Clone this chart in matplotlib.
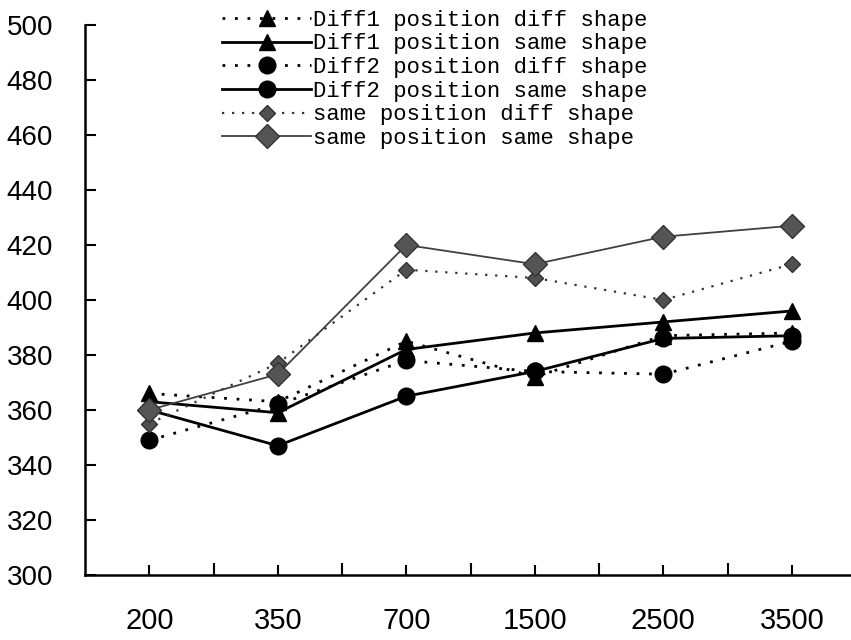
import matplotlib.pyplot as plt
import numpy as np

# data
sizes = ["200", "350", "700", "1500", "2500", "3500"]
diff1_diff = [366, 363, 385, 372, 387, 388]
diff1_same = [363, 359, 382, 388, 392, 396]
diff2_diff = [349, 362, 378, 374, 373, 385]
diff2_same = [360, 347, 365, 374, 386, 387]
same_diff = [355, 377, 411, 408, 400, 413]
same_same = [360, 373, 420, 413, 423, 427]

x = np.arange(len(sizes))
dots = (0, (1, 3.5))

fig = plt.figure(figsize=(8.51, 6.40), dpi=100)
ax = fig.add_axes([0.0999, 0.1016, 0.906, 0.8594])

ax.plot(x, diff1_diff, color='black', ls=dots, lw=2, marker='^', ms=11,
        label='Diff1 position diff shape')
ax.plot(x, diff1_same, color='black', ls='-', lw=2, marker='^', ms=11,
        label='Diff1 position same shape')
ax.plot(x, diff2_diff, color='black', ls=dots, lw=2, marker='o', ms=12,
        label='Diff2 position diff shape')
ax.plot(x, diff2_same, color='black', ls='-', lw=2, marker='o', ms=12,
        label='Diff2 position same shape')
ax.plot(x, same_diff, color='#333333', ls=dots, lw=1.6, marker='D', ms=8,
        mfc='#505050', mec='#303030', label='same position diff shape')
ax.plot(x, same_same, color='#404040', ls='-', lw=1.3, marker='D', ms=12,
        mfc='#555555', mec='#333333', label='same position same shape')

ax.set_xlim(-0.5, 5.5)
ax.set_ylim(300, 500)
ax.set_yticks(np.arange(300, 501, 20))
ax.set_xticks(x)
ax.set_xticklabels(sizes, family='Liberation Sans', fontsize=21)
ax.set_xticks(x[:-1] + 0.5, minor=True)

ax.spines['top'].set_visible(False)
ax.spines['right'].set_visible(False)
ax.spines['left'].set_linewidth(1.8)
ax.spines['bottom'].set_linewidth(1.8)

ax.tick_params(axis='y', direction='in', length=8, width=1.5, pad=23, labelsize=20)
ax.tick_params(axis='x', which='major', direction='in', length=7, width=1.5, pad=23)
ax.tick_params(axis='x', which='minor', direction='in', length=9, width=1.5)
for lab in ax.get_yticklabels():
    lab.set_family('Liberation Sans')

leg = ax.legend(loc='upper left', bbox_to_anchor=(0.248, 1.002), bbox_transform=fig.transFigure,
                frameon=False, prop={'family': 'Liberation Mono', 'size': 16},
                handlelength=4.0, handletextpad=0.1, labelspacing=0.12, borderpad=0)
ax.set_zorder(1)

fig.savefig('out.png', dpi=100)
